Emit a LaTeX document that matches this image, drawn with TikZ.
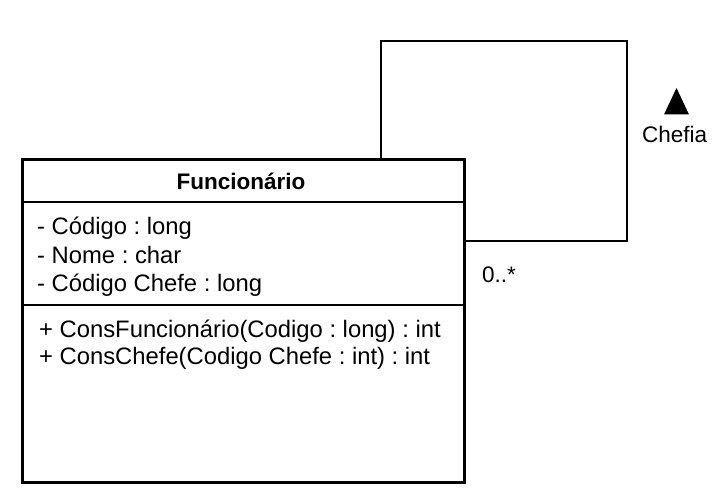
\documentclass[tikz,border=0pt]{standalone}
\usepackage{fontspec}
\setmainfont{Liberation Sans}
\frenchspacing
\begin{document}
\begin{tikzpicture}[x=1pt,y=-1pt,
  txt/.style={inner sep=0pt,anchor=base west,font=\fontsize{23.8}{28}\selectfont},
  lbl/.style={inner sep=0pt,anchor=base west,font=\fontsize{22.5}{26}\selectfont},
  classbox/.style={draw,line width=3pt,minimum width=442pt,minimum height=323pt,inner sep=0pt,anchor=north west},
  divider/.style={line width=1.6pt},
  assoc/.style={line width=1.5pt}]
\useasboundingbox (0,0) rectangle (721,500);
\node[classbox] (cls) at (20.5,158) {};
\draw[divider] (cls.west |- 0,202) coordinate (d1a) -- (cls.east |- 0,202) coordinate (d1b);
\draw[divider] (cls.west |- 0,305) coordinate (d2a) -- (cls.east |- 0,305) coordinate (d2b);
\node[inner sep=0pt,font=\bfseries\fontsize{22.5}{26}\selectfont] (title) at (241,181) {Funcionário};
\node[txt] (a1) at (37,235) {- Código : long};
\node[txt] (a2) at (37,263) {- Nome : char};
\node[txt] (a3) at (37,291) {- Código Chefe : long};
\node[txt] (m1) at (39,337) {+ ConsFuncionário(Codigo : long) : int};
\node[txt] (m2) at (39,364) {+ ConsChefe(Codigo Chefe : int) : int};
\coordinate (c1) at (381,41);
\coordinate (c2) at (627,41);
\coordinate (c3) at (627,241);
\draw[assoc] (c1 |- cls.north) -- (c1) -- (c2) -- (c3) -- (cls.east |- c3);
\node[lbl] (mult) at (482,283) {0..*};
\fill (664,114.5) -- (676.5,88) -- (689,114.5) -- cycle;
\node[lbl] (chefia) at (642,143) {Chefia};
\end{tikzpicture}
\end{document}
